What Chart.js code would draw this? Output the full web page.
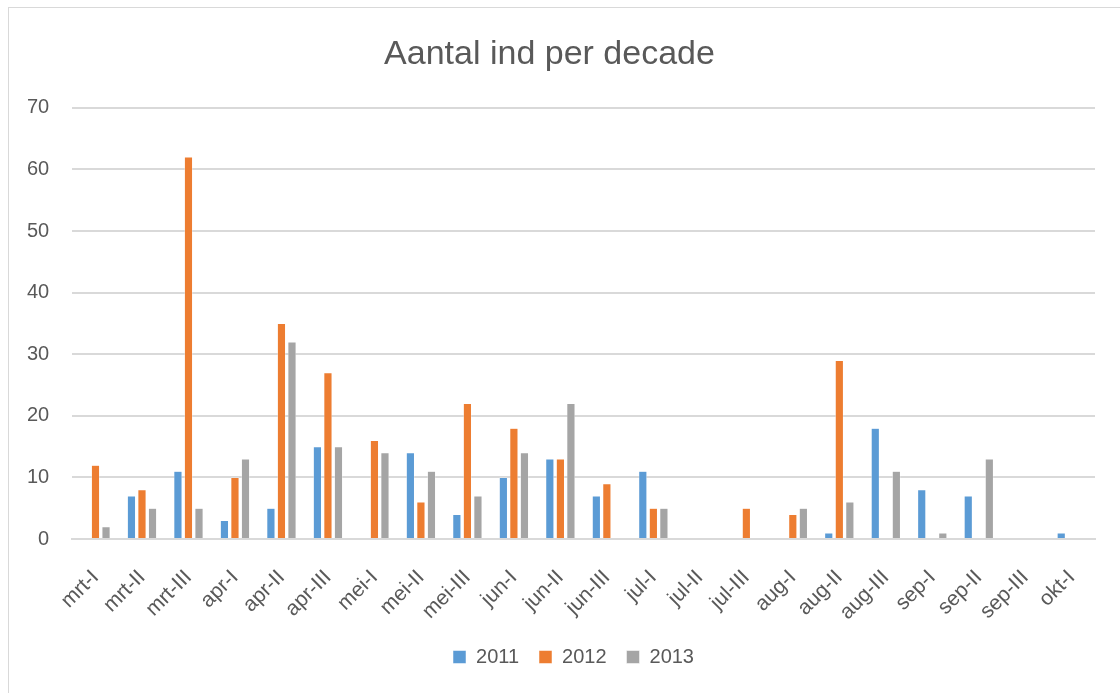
<!DOCTYPE html>
<html>
<head>
<meta charset="utf-8">
<script src="https://cdn.jsdelivr.net/npm/chart.js@4"></script>
<style>
html,body{margin:0;padding:0;background:#fff;overflow:hidden;}
#wrap{position:absolute;left:0;top:0;width:1120px;height:693px;}
#frame{position:absolute;left:8px;top:7px;width:1120px;height:700px;border:1px solid #d9d9d9;box-sizing:border-box;pointer-events:none;}
</style>
</head>
<body>
<div id="wrap"><canvas id="c" width="1120" height="693"></canvas></div>
<div id="frame"></div>
<script>
const categories = ["mrt-I","mrt-II","mrt-III","apr-I","apr-II","apr-III","mei-I","mei-II","mei-III","jun-I","jun-II","jun-III","jul-I","jul-II","jul-III","aug-I","aug-II","aug-III","sep-I","sep-II","sep-III","okt-I"];
const series2011 = [0,7,11,3,5,15,0,14,4,10,13,7,11,0,0,0,1,18,8,7,0,1];
const series2012 = [12,8,62,10,35,27,16,6,22,18,13,9,5,0,5,4,29,0,0,0,0,0];
const series2013 = [2,5,5,13,32,15,14,11,7,14,22,0,5,0,0,5,6,11,1,13,0,0];
const seriesNames = ["2011","2012","2013"];
const colors = ["#5b9bd5","#ed7d31","#a5a5a5"];
const yTicks = [0,10,20,30,40,50,60,70];

const FONT = "'Liberation Sans', Arial, sans-serif";
const ds = [series2011, series2012, series2013].map((d,i)=>({
  label: seriesNames[i],
  data: d,
  backgroundColor: colors[i],
  borderColor: "#ffffff",
  borderWidth: 0.5,
  barPercentage: 0.78,
  categoryPercentage: 0.68
}));

const legendShift = {
  id: 'legendShift',
  afterLayout(chart) {
    const lg = chart.legend;
    if (lg) { lg.left += 24; lg.right += 24; }
  }
};

new Chart(document.getElementById('c'), {
  type: 'bar',
  data: { labels: categories, datasets: ds },
  plugins: [legendShift],
  options: {
    responsive: false,
    animation: false,
    devicePixelRatio: 1,
    layout: { padding: { top: 34, left: 4, right: 25, bottom: 16 } },
    plugins: {
      title: {
        display: true,
        text: "Aantal ind per decade",
        color: "#595959",
        font: { family: FONT, size: 34, weight: 'normal' },
        padding: { top: 0, bottom: 33 }
      },
      legend: {
        position: 'bottom',
        labels: {
          color: "#595959",
          font: { family: FONT, size: 20 },
          boxWidth: 13, boxHeight: 13,
          padding: 20
        }
      },
      tooltip: { enabled: false }
    },
    scales: {
      x: {
        grid: { display: false, drawTicks: false },
        border: { color: "#d9d9d9", width: 2 },
        afterFit: (s) => { s.height -= 24; },
        ticks: {
          color: "#595959",
          font: { family: FONT, size: 21 },
          maxRotation: 45, minRotation: 45,
          autoSkip: false,
          padding: 26
        }
      },
      y: {
        min: 0, max: 70,
        afterBuildTicks: (ax) => { ax.ticks = yTicks.map(v => ({ value: v })); },
        grid: { color: "#d9d9d9", lineWidth: 2, drawTicks: false },
        border: { display: false },
        ticks: {
          color: "#595959",
          font: { family: FONT, size: 20 },
          padding: 23
        }
      }
    }
  }
});
</script>
</body>
</html>
